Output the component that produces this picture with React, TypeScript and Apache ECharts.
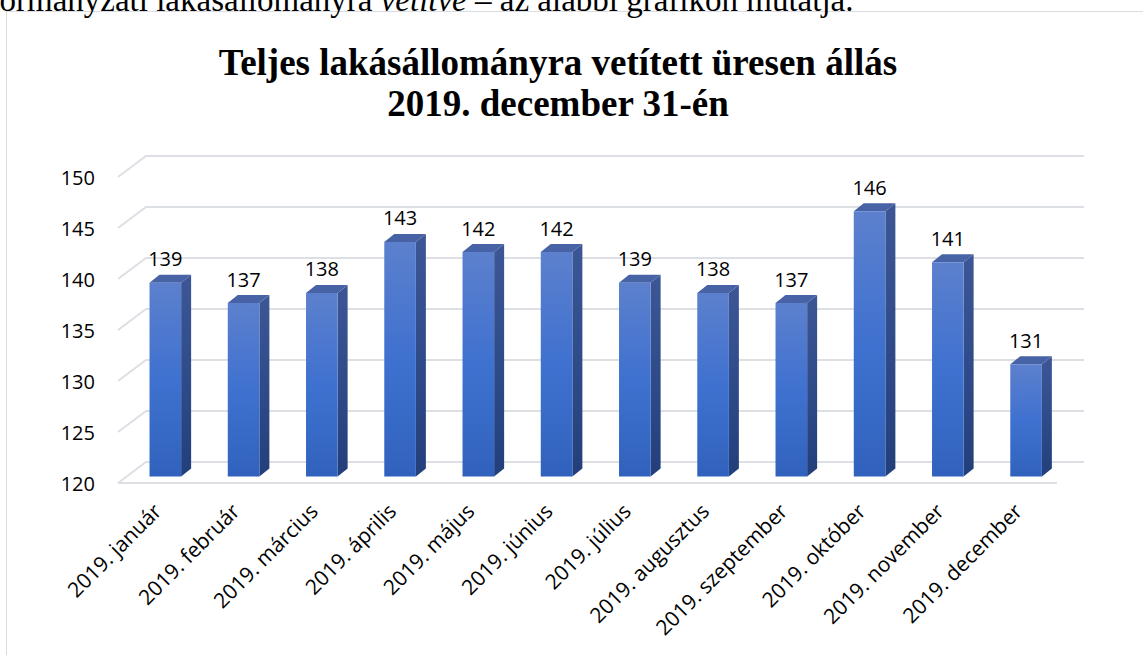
import React, { useEffect, useRef } from "react";
import * as echarts from "echarts";

const categories = [
  "2019. január",
  "2019. február",
  "2019. március",
  "2019. április",
  "2019. május",
  "2019. június",
  "2019. július",
  "2019. augusztus",
  "2019. szeptember",
  "2019. október",
  "2019. november",
  "2019. december",
];
const values = [139, 137, 138, 143, 142, 142, 139, 138, 137, 146, 141, 131];
const yTicks = [120, 125, 130, 135, 140, 145, 150];
const titleLines = ["Teljes lakásállományra vetített üresen állás", "2019. december 31-én"];

export default function App() {
  const ref = useRef<HTMLDivElement>(null);
  useEffect(() => {
    if (!ref.current) return;
    const chart = echarts.init(ref.current, undefined, { renderer: "svg" });
    const gridColor = "#dcdfe4";
    const wallDx = 28;
    const wallDy = -21;
    const barDx = 8.2;
    const barDy = -6.5;
    const barW = 31.6;
    const depthX = 10;
    const depthY = -8;
    const labelFont = "'Open Sans', Lato, sans-serif";

    chart.setOption({
      animation: false,
      backgroundColor: "#ffffff",
      grid: { left: 118, right: 86, top: 177, bottom: 172, containLabel: false },
      xAxis: {
        type: "category",
        data: categories,
        axisLine: { show: false },
        axisTick: { show: false },
        axisLabel: {
          interval: 0,
          rotate: 45,
          margin: 24,
          fontSize: 21,
          color: "#000",
          fontFamily: labelFont,
        },
        splitLine: { show: false },
      },
      yAxis: {
        type: "value",
        min: 120,
        max: 150,
        interval: 5,
        axisLine: { show: false },
        axisTick: { show: false },
        splitLine: { show: false },
        axisLabel: {
          margin: 23,
          fontSize: 20,
          color: "#000",
          fontFamily: labelFont,
        },
      },
      graphic: [
        {
          type: "rect",
          shape: { x: 6.5, y: 11.5, width: 1200, height: 700 },
          style: { fill: "none", stroke: "#d9dde3", lineWidth: 1 },
          silent: true,
        },
        {
          type: "text",
          x: -50,
          y: 0,
          style: {
            text: "önkormányzati lakásállományra {i|vetítve} – az alábbi grafikon mutatja.",
            font: "33px 'Liberation Serif', serif",
            fill: "#000",
            verticalAlign: "middle",
            rich: { i: { fontStyle: "italic", fontSize: 33, fontFamily: "'Liberation Serif', serif" } },
          },
        },
        {
          type: "text",
          x: 558,
          y: 62,
          style: {
            text: titleLines[0],
            font: "bold 37px 'Liberation Serif', serif",
            fill: "#000",
            align: "center",
            verticalAlign: "middle",
          },
        },
        {
          type: "text",
          x: 558,
          y: 103,
          style: {
            text: titleLines[1],
            font: "bold 37px 'Liberation Serif', serif",
            fill: "#000",
            align: "center",
            verticalAlign: "middle",
          },
        },
      ],
      series: [
        {
          type: "custom",
          clip: false,
          silent: true,
          data: yTicks.map((v) => [0, v]),
          encode: { x: 0, y: 1 },
          renderItem: (params: any, api: any) => {
            const cs = params.coordSys;
            const v = api.value(1);
            const y = api.coord([0, v])[1];
            const x0 = cs.x;
            const x1 = cs.x + cs.width;
            const children: any[] = [
              {
                type: "polyline",
                shape: {
                  points: [
                    [x0, y],
                    [x0 + wallDx, y + wallDy],
                    [x1 + wallDx - 1, y + wallDy],
                  ],
                },
                style: { stroke: gridColor, lineWidth: 2, fill: "none" },
              },
            ];
            if (v === yTicks[0]) {
              children.push({
                type: "line",
                shape: { x1: x0, y1: y, x2: x1, y2: y },
                style: { stroke: gridColor, lineWidth: 2 },
              });
            }
            return { type: "group", children };
          },
        },
        {
          type: "custom",
          clip: false,
          data: values.map((v, i) => [i, v]),
          encode: { x: 0, y: 1 },
          renderItem: (params: any, api: any) => {
            const i = api.value(0);
            const v = api.value(1);
            const base = api.coord([i, yTicks[0]]);
            const top = api.coord([i, v]);
            const cx = base[0] + barDx;
            const yb = base[1] + barDy;
            const yt = top[1] + barDy;
            const l = cx - barW / 2;
            const r = cx + barW / 2;
            return {
              type: "group",
              children: [
                {
                  type: "polygon",
                  shape: {
                    points: [
                      [r, yt],
                      [r + depthX, yt + depthY],
                      [r + depthX, yb + depthY],
                      [r, yb],
                    ],
                  },
                  style: {
                    fill: new echarts.graphic.LinearGradient(0, 0, 0, 1, [
                      { offset: 0, color: "#3d5796" },
                      { offset: 1, color: "#223f7c" },
                    ]),
                  },
                },
                {
                  type: "polygon",
                  shape: {
                    points: [
                      [l, yt],
                      [l + depthX, yt + depthY],
                      [r + depthX, yt + depthY],
                      [r, yt],
                    ],
                  },
                  style: { fill: "#4862a6" },
                },
                {
                  type: "rect",
                  shape: { x: l, y: yt, width: barW, height: yb - yt },
                  style: {
                    fill: new echarts.graphic.LinearGradient(0, 0, 0, 1, [
                      { offset: 0, color: "#5c80cd" },
                      { offset: 0.5, color: "#3f71d0" },
                      { offset: 1, color: "#3062bd" },
                    ]),
                  },
                },
                {
                  type: "text",
                  x: cx,
                  y: yt - 24,
                  style: {
                    text: String(v),
                    font: "20px " + labelFont,
                    fill: "#000",
                    align: "center",
                    verticalAlign: "middle",
                  },
                },
              ],
            };
          },
        },
      ],
    });
    return () => chart.dispose();
  }, []);
  return (
    <div
      ref={ref}
      style={{ position: "absolute", left: 0, top: 0, width: 1143, height: 655 }}
    />
  );
}
